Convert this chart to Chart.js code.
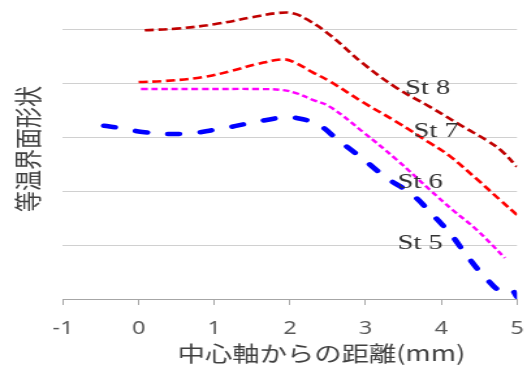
<!DOCTYPE html>
<html>
<head>
<meta charset="utf-8">
<style>
  html, body { margin: 0; padding: 0; background: #fff; overflow: hidden; }
  /* the figure is drawn narrow and widened to its final 527px width */
  #wrap { width: 405px; height: 367px; transform: scaleX(1.30123); transform-origin: 0 0; }
  canvas { display: block; }
</style>
<script src="https://cdn.jsdelivr.net/npm/chart.js@4.4.1/dist/chart.umd.min.js"></script>
</head>
<body>
<div id="wrap"><canvas id="c" width="405" height="367"></canvas></div>
<script>
// Series names and axis texts
const seriesNames = ['St 8', 'St 7', 'St 6', 'St 5'];
const xTitle = '中心軸からの距離(mm)';
const yTitle = '等温界面形状';

// Tick values
const xTickValues = [-1, 0, 1, 2, 3, 4, 5];
const yGridValues = [0, 1, 2, 3, 4, 5];

// Isotherm interface profiles: distance from axis (mm) and relative height
const st8X = [0.08, 0.5, 1.0, 1.5, 1.85, 2.05, 2.25, 2.53, 2.96, 3.41, 3.85, 4.29, 4.6, 4.8, 5.0];
const st8Y = [4.98, 5.01, 5.09, 5.22, 5.30, 5.29, 5.16, 4.89, 4.37, 3.91, 3.56, 3.19, 2.94, 2.74, 2.45];

const st7X = [0, 0.35, 0.85, 1.21, 1.56, 1.9, 2.05, 2.3, 2.53, 2.96, 3.41, 3.85, 4.1, 4.47, 4.78, 5.0];
const st7Y = [4.02, 4.04, 4.11, 4.22, 4.35, 4.44, 4.39, 4.2, 4.03, 3.65, 3.28, 2.89, 2.66, 2.22, 1.83, 1.56];

const st6X = [0.03, 0.8, 1.6, 1.91, 2.09, 2.3, 2.53, 2.96, 3.41, 3.85, 4.15, 4.47, 4.84];
const st6Y = [3.89, 3.89, 3.89, 3.87, 3.81, 3.69, 3.56, 3.1, 2.58, 2.02, 1.65, 1.28, 0.76];

const st5X = [-0.46, -0.25, 0.08, 0.57, 1.07, 1.47, 1.91, 2.03, 2.36, 2.64, 2.95, 3.27, 3.61, 3.88, 4.13, 4.35, 4.6, 4.8, 4.93, 5.0];
const st5Y = [3.21, 3.17, 3.09, 3.06, 3.15, 3.26, 3.37, 3.37, 3.24, 2.94, 2.61, 2.25, 1.94, 1.57, 1.19, 0.78, 0.37, 0.13, 0.16, 0.04];

const pairs = (xs, ys) => xs.map((v, i) => ({ x: v, y: ys[i] }));

// Series labels and axis titles drawn as text on the canvas
const textLayer = {
  id: 'textLayer',
  afterDatasetsDraw(chart, args, opts) {
    const { ctx, scales: { x, y } } = chart;
    ctx.save();
    ctx.textAlign = 'center';
    ctx.textBaseline = 'middle';
    ctx.font = opts.labelFont;
    ctx.fillStyle = opts.labelColor;
    opts.anchors.forEach((a, i) => {
      ctx.fillText(seriesNames[i], x.getPixelForValue(a[0]), y.getPixelForValue(a[1]));
    });
    ctx.font = opts.titleFont;
    ctx.fillStyle = opts.titleColor;
    ctx.fillText(xTitle, opts.xTitleAt[0], opts.xTitleAt[1]);
    ctx.translate(opts.yTitleAt[0], opts.yTitleAt[1]);
    ctx.rotate(-Math.PI / 2);
    ctx.fillText(yTitle, 0, 0);
    ctx.restore();
  }
};

const line = (name, xs, ys, color, width, dash, cap) => ({
  label: name,
  data: pairs(xs, ys),
  borderColor: color,
  borderWidth: width,
  borderDash: dash,
  borderCapStyle: cap,
  pointRadius: 0,
  fill: false,
  tension: 0.4
});

new Chart(document.getElementById('c'), {
  type: 'line',
  data: {
    datasets: [
      line(seriesNames[0], st8X, st8Y, '#C00000', 2.6, [7, 3.5], 'butt'),
      line(seriesNames[1], st7X, st7Y, '#FF0000', 2.6, [7, 3.5], 'butt'),
      line(seriesNames[2], st6X, st6Y, '#FF00FF', 2.4, [5, 2.8], 'butt'),
      line(seriesNames[3], st5X, st5Y, '#0000FF', 4.6, [9, 16], 'round')
    ]
  },
  plugins: [textLayer],
  options: {
    responsive: false,
    animation: false,
    devicePixelRatio: 1,
    layout: { padding: { left: 0, right: 7.7, top: 0, bottom: 0 } },
    plugins: {
      legend: { display: false },
      tooltip: { enabled: false },
      textLayer: {
        anchors: [[3.82, 3.91], [3.93, 3.11], [3.72, 2.17], [3.72, 1.04]],
        labelFont: '22px "Liberation Serif"',
        labelColor: '#333333',
        titleFont: '21px "Noto Sans CJK JP"',
        titleColor: '#404040',
        xTitleAt: [247, 353],
        yTitleAt: [20.8, 149]
      }
    },
    scales: {
      x: {
        type: 'linear',
        min: -1,
        max: 5,
        afterBuildTicks: s => { s.ticks = xTickValues.map(v => ({ value: v })); },
        afterFit: s => { s.height = 68; s.paddingLeft = 0; s.paddingRight = 0; },
        grid: { drawOnChartArea: false, drawTicks: true, tickLength: 6, color: '#a6a6a6', lineWidth: 1 },
        border: { display: true, color: '#a6a6a6', width: 1 },
        ticks: {
          padding: 12.7,
          color: '#595959',
          font: { family: '"Noto Sans"', size: 18 },
          maxRotation: 0,
          autoSkip: false
        },
        title: { display: false }
      },
      y: {
        type: 'linear',
        min: 0,
        max: 5.54,
        afterBuildTicks: s => { s.ticks = yGridValues.map(v => ({ value: v })); },
        afterFit: s => { s.width = 48.4; s.paddingTop = 0; s.paddingBottom = 0; },
        grid: { color: '#d0d0d0', lineWidth: 1, drawTicks: false },
        border: { display: false },
        ticks: { display: false },
        title: { display: false }
      }
    }
  }
});
</script>
</body>
</html>
